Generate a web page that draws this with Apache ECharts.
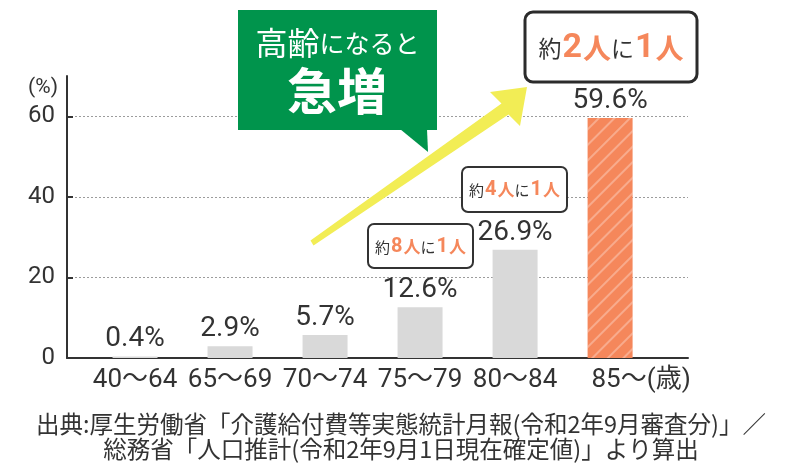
<!DOCTYPE html>
<html><head><meta charset="utf-8">
<script src="https://cdn.jsdelivr.net/npm/echarts@6/dist/echarts.min.js"></script>
<style>html,body{margin:0;padding:0;background:#fff}#c{width:802px;height:472px}</style>
</head><body><div id="c"></div>
<script>
const categories = ['40〜64', '65〜69', '70〜74', '75〜79', '80〜84', '85〜'];
const ageUnit = '(歳)';
const values = [0.4, 2.9, 5.7, 12.6, 26.9, 59.6];
const yTicks = [0, 20, 40, 60];
const sourceLines = [
  '出典:厚生労働省「介護給付費等実態統計月報(令和2年9月審査分)」／',
  '総務省「人口推計(令和2年9月1日現在確定値)」より算出'
];
const calloutLine1 = ['高齢', 'になると'];
const calloutLine2 = '急増';
const ratioNotes = ['8', '4', '2'];

const NUM = 'Roboto, "Noto Sans CJK JP", sans-serif';
const JP = '"Noto Sans CJK JP", sans-serif';
const TXT = '#333333';
const ORANGE = '#f5875b';
const GRAY = '#d9d9d9';

const chart = echarts.init(document.getElementById('c'), null, {renderer: 'canvas'});

function ratioText(n) {
  return '{k|約}{n|' + n + '}{p|人}{k|に}{n|1}{p|人}';
}
function ratioRich(s) {
  return {
    k: {fontFamily: JP, fontSize: s.k, fill: TXT, fontWeight: 'normal'},
    n: {fontFamily: NUM, fontSize: s.n, fill: ORANGE, fontWeight: 'bold', padding: [0, 1, 0, 1]},
    p: {fontFamily: JP, fontSize: s.p, fill: ORANGE, fontWeight: 'bold'}
  };
}

const option = {
  backgroundColor: '#ffffff',
  animation: false,
  grid: {left: 67, right: 114, top: 76, bottom: 114, outerBoundsMode: 'none'},
  xAxis: {
    type: 'value', min: -0.716, max: 5.82,
    splitLine: {show: false}, axisTick: {show: false},
    axisLine: {show: true, onZero: false, lineStyle: {color: '#333', width: 2}},
    axisLabel: {
      customValues: categories.map((c, i) => i),
      formatter: v => {
        const i = Math.round(v);
        if (i === categories.length - 1) return '{u|' + categories[i] + ageUnit + '}';
        return categories[i];
      },
      rich: {u: {fontFamily: NUM, fontSize: 26, color: TXT, padding: [0, 0, 0, 62]}},
      margin: 9, fontSize: 26, color: TXT, fontFamily: NUM
    }
  },
  yAxis: {
    type: 'value', min: 0, max: 70,
    name: '(%)', nameLocation: 'end', nameGap: -22,
    nameTextStyle: {align: 'right', padding: [0, 9, 0, 0], fontSize: 21, color: TXT, fontFamily: NUM},
    axisLine: {show: true, onZero: false, lineStyle: {color: '#333', width: 2}},
    axisTick: {show: true, inside: true, length: 6, customValues: yTicks, lineStyle: {color: '#333', width: 2}},
    axisLabel: {customValues: yTicks, fontSize: 24, margin: 12, color: TXT, fontFamily: NUM},
    splitLine: {show: true, lineStyle: {type: [2, 2], color: '#9c9c9c', width: 1}}
  },
  series: [{
    type: 'bar',
    barWidth: 45,
    data: values.map((v, i) => ({
      value: [i, v],
      itemStyle: i === values.length - 1 ? {
        color: ORANGE,
        decal: {symbol: 'rect', symbolSize: 1, dashArrayX: [1, 0], dashArrayY: [2, 9], rotation: -Math.PI / 4, color: 'rgba(255,255,255,0.3)'}
      } : {color: GRAY}
    })),
    label: {
      show: true, position: 'top', distance: 3,
      formatter: p => p.value[1].toFixed(1) + '%',
      fontSize: 28, color: TXT, fontFamily: NUM
    }
  }],
  graphic: [
    {type: 'polygon', z: 50, shape: {points: [[313.5, 245.5], [508.5, 114.5], [520, 126], [527, 87], [490, 92], [501.5, 103.5], [310.5, 240.5]]}, style: {fill: '#f2ed55'}},
    {type: 'rect', z: 60, shape: {x: 238, y: 10, width: 199, height: 120}, style: {fill: '#00944c'}},
    {type: 'polygon', z: 60, shape: {points: [[400, 129], [428, 152], [427, 129]]}, style: {fill: '#00944c'}},
    {type: 'text', z: 61, x: 337.5, y: 43, style: {
      text: '{a|' + calloutLine1[0] + '}{b|' + calloutLine1[1] + '}', align: 'center', verticalAlign: 'middle',
      rich: {a: {fontFamily: JP, fontSize: 32, fill: '#fff'}, b: {fontFamily: JP, fontSize: 25, fill: '#fff'}}
    }},
    {type: 'text', z: 61, x: 337, y: 91, style: {text: calloutLine2, align: 'center', verticalAlign: 'middle', fontFamily: JP, fontSize: 50, fontWeight: 'bold', fill: '#fff'}},
    {type: 'rect', z: 60, shape: {x: 525, y: 12, width: 172, height: 70, r: 8}, style: {fill: '#fff', stroke: '#2b2b2b', lineWidth: 3}},
    {type: 'text', z: 61, x: 611, y: 48, style: {text: ratioText(ratioNotes[2]), align: 'center', verticalAlign: 'middle', rich: ratioRich({k: 23, n: 34, p: 28})}},
    {type: 'rect', z: 60, shape: {x: 462, y: 167, width: 105, height: 45, r: 6}, style: {fill: '#fff', stroke: '#333', lineWidth: 2}},
    {type: 'text', z: 61, x: 514.5, y: 190, style: {text: ratioText(ratioNotes[1]), align: 'center', verticalAlign: 'middle', rich: ratioRich({k: 15, n: 20, p: 17})}},
    {type: 'rect', z: 60, shape: {x: 368, y: 224, width: 105, height: 44, r: 6}, style: {fill: '#fff', stroke: '#333', lineWidth: 2}},
    {type: 'text', z: 61, x: 420.5, y: 247, style: {text: ratioText(ratioNotes[0]), align: 'center', verticalAlign: 'middle', rich: ratioRich({k: 15, n: 20, p: 17})}},
    {type: 'text', x: 401, y: 424, style: {text: sourceLines[0], align: 'center', verticalAlign: 'middle', fontFamily: JP, fontSize: 23.5, fill: TXT}},
    {type: 'text', x: 401, y: 449, style: {text: sourceLines[1], align: 'center', verticalAlign: 'middle', fontFamily: JP, fontSize: 23.5, fill: TXT}}
  ]
};
chart.setOption(option);
</script>
</body></html>
